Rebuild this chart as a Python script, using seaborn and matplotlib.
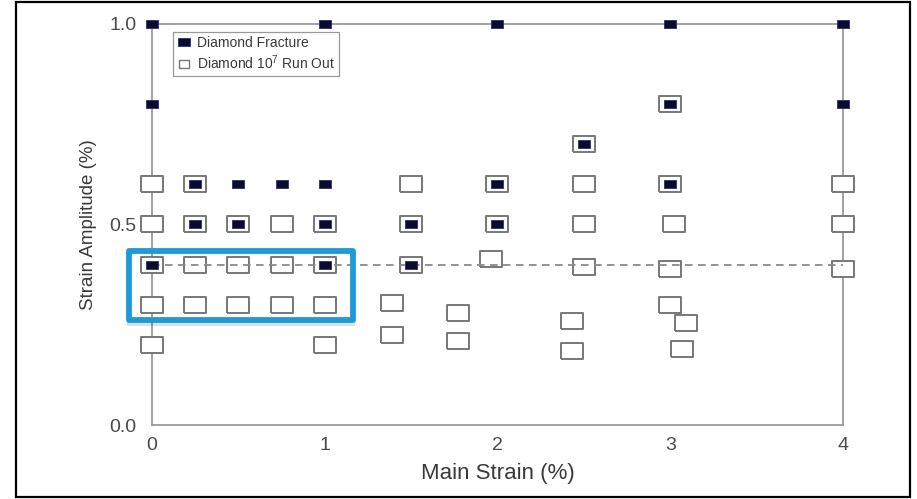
import matplotlib
matplotlib.use("Agg")
import matplotlib.pyplot as plt
from matplotlib.lines import Line2D
from matplotlib.patches import Rectangle
from matplotlib.markers import MarkerStyle
import seaborn as sns

# Fatigue results: main (pre)strain vs. cyclic strain amplitude
fracture_strain = [0, 0, 0, 0.25, 0.25, 0.5, 0.5, 0.75, 1, 1, 1, 1,
                   1.5, 1.5, 2, 2, 2, 2.5, 3, 3, 3, 4, 4]
fracture_amp = [1.0, 0.8, 0.4, 0.6, 0.5, 0.6, 0.5, 0.6, 1.0, 0.6, 0.5, 0.4,
                0.5, 0.4, 1.0, 0.6, 0.5, 0.7, 1.0, 0.8, 0.6, 1.0, 0.8]

runout_strain = [0, 0, 0, 0, 0,
                 0.25, 0.25, 0.25, 0.25,
                 0.5, 0.5, 0.5,
                 0.75, 0.75, 0.75,
                 1, 1, 1, 1,
                 1.39, 1.39,
                 1.5, 1.5, 1.5,
                 1.77, 1.77,
                 1.96,
                 2, 2,
                 2.43, 2.43,
                 2.5, 2.5, 2.5, 2.5,
                 3, 3, 3, 3, 3.02, 3.09, 3.07,
                 4, 4, 4]
runout_amp = [0.6, 0.5, 0.4, 0.3, 0.2,
              0.6, 0.5, 0.4, 0.3,
              0.5, 0.4, 0.3,
              0.5, 0.4, 0.3,
              0.5, 0.4, 0.3, 0.2,
              0.305, 0.225,
              0.6, 0.5, 0.4,
              0.28, 0.21,
              0.415,
              0.6, 0.5,
              0.26, 0.185,
              0.7, 0.6, 0.5, 0.395,
              0.8, 0.6, 0.39, 0.3, 0.5, 0.255, 0.19,
              0.6, 0.5, 0.39]

threshold_amp = 0.4
x_ticks = [0, 1, 2, 3, 4]
x_tick_labels = ["0", "1", "2", "3", "4"]
y_ticks = [0.0, 0.5, 1.0]
y_tick_labels = ["0.0", "0.5", "1.0"]
legend_labels = ["Diamond Fracture", r"Diamond 10$^7$ Run Out"]
x_label = "Main Strain (%)"
y_label = "Strain Amplitude (%)"

# highlighted block of tests (strain 0-1 %, amplitude 0.3-0.4 %)
highlight_x = (-0.134, 1.165)
highlight_y = (0.261, 0.433)

sns.set_theme(style="white")
plt.rcParams["font.family"] = ["Liberation Sans", "DejaVu Sans"]
plt.rcParams["mathtext.fontset"] = "custom"
plt.rcParams["mathtext.rm"] = "Liberation Sans"
plt.rcParams["mathtext.it"] = "Liberation Sans:italic"

# slightly flattened square marker
rect = MarkerStyle([(-1, -0.74), (1, -0.74), (1, 0.74), (-1, 0.74), (-1, -0.74)])

fig = plt.figure(figsize=(9.17, 4.99), dpi=100)
fig.patch.set_facecolor("white")
ax = fig.add_axes([152 / 917, 74 / 499, 691 / 917, 401 / 499])
ax.set_facecolor("white")

sns.scatterplot(x=runout_strain, y=runout_amp, ax=ax, marker=rect, s=235,
                color="white", edgecolor="#777777", linewidth=1.4,
                clip_on=False, zorder=3)
ax.axhline(threshold_amp, color="#8a8a8a", linewidth=1.3,
           dashes=(4.2, 3.0), zorder=3.5)
sns.scatterplot(x=fracture_strain, y=fracture_amp, ax=ax, marker=rect, s=64,
                color="#0b0b2e", edgecolor="#2c2c78", linewidth=0.6,
                clip_on=False, zorder=4)

ax.set_xlim(0, 4)
ax.set_ylim(0, 1)
ax.set_xticks(x_ticks)
ax.set_xticklabels(x_tick_labels)
ax.set_yticks(y_ticks)
ax.set_yticklabels(y_tick_labels)
ax.tick_params(direction="in", length=3, color="#aaaaaa", labelsize=14,
               labelcolor="#4a4a4a")
ax.tick_params(axis="x", pad=9)
ax.tick_params(axis="y", pad=11)
for sp in ax.spines.values():
    sp.set_visible(True)
    sp.set_color("#9a9a9a")
    sp.set_linewidth(1.3)

ax.set_xlabel(x_label, fontsize=16, color="#3a3a3a", labelpad=6)
ax.set_ylabel(y_label, fontsize=13.5, color="#3a3a3a", labelpad=9)

handles = [
    Line2D([], [], linestyle="none", marker=rect, markersize=8,
           markerfacecolor="#0b0b2e", markeredgecolor="#2c2c78",
           markeredgewidth=0.6),
    Line2D([], [], linestyle="none", marker=rect, markersize=7.5,
           markerfacecolor="white", markeredgecolor="#777777",
           markeredgewidth=1.0),
]
leg = ax.legend(handles, legend_labels, loc="upper left",
                bbox_to_anchor=(0.030, 0.98), fontsize=10, frameon=True,
                fancybox=False, edgecolor="#999999", framealpha=1,
                borderpad=0.3, handletextpad=0.45, labelspacing=0.25,
                handlelength=1.0, borderaxespad=0)
leg.get_frame().set_linewidth(0.9)
for t in leg.get_texts():
    t.set_color("#3a3a3a")

# highlight box with a soft shadow under its lower edge
hx0, hx1 = highlight_x
hy0, hy1 = highlight_y
shadow = Rectangle((hx0 - 0.01, hy0 - 0.014), hx1 - hx0 + 0.02, 0.014,
                   facecolor="#000000", edgecolor="none", alpha=0.13,
                   clip_on=False, zorder=4.8)
ax.add_patch(shadow)
box = Rectangle((hx0, hy0), hx1 - hx0, hy1 - hy0, fill=False,
                edgecolor="#1e9bd7", linewidth=4.2, joinstyle="round",
                clip_on=False, zorder=5)
ax.add_patch(box)

# outer frame around the whole figure
fig.add_artist(Rectangle((16 / 917, 2 / 499), (910 - 16) / 917, (497 - 2) / 499,
                         transform=fig.transFigure, fill=False,
                         edgecolor="black", linewidth=1.6))

fig.savefig("out.png", dpi=100)
